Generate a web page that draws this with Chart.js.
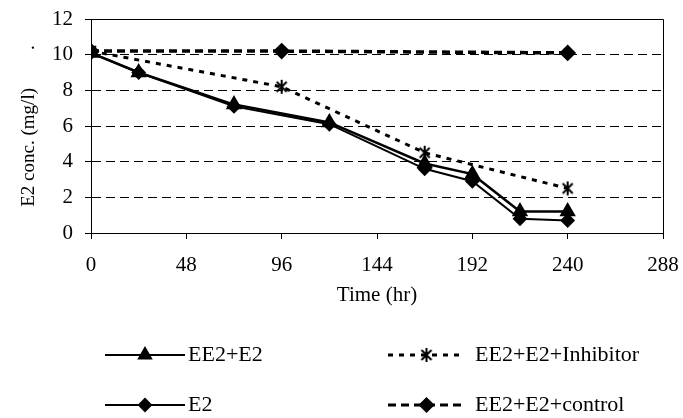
<!DOCTYPE html>
<html>
<head>
<meta charset="utf-8">
<script src="https://cdn.jsdelivr.net/npm/chart.js@4.4.0/dist/chart.umd.min.js"></script>
<style>
  html, body { margin: 0; padding: 0; background: #fff; }
  canvas { display: block; }
</style>
</head>
<body>
<canvas id="chart" width="683" height="418"></canvas>
<script>
// values
const times = [0, 24, 72, 120, 168, 192, 216, 240];
const ee2e2 = [10.1, 9.0, 7.2, 6.2, 3.9, 3.3, 1.2, 1.2];
const e2 = [10.1, 9.0, 7.1, 6.1, 3.6, 2.9, 0.8, 0.7];
const inhibitorTimes = [0, 96, 168, 240];
const inhibitor = [10.2, 8.2, 4.5, 2.5];
const controlTimes = [0, 96, 240];
const control = [10.2, 10.2, 10.1];
const xTicks = [0, 48, 96, 144, 192, 240, 288];
const yTicks = [0, 2, 4, 6, 8, 10, 12];

const FONT = "'Liberation Serif', 'Times New Roman', serif";

const pts = (xs, ys) => xs.map((x, i) => ({ x: x, y: ys[i] }));

// asterisk marker like the Excel one
const star = document.createElement('canvas');
star.width = 16;
star.height = 16;
(function () {
  const c = star.getContext('2d');
  c.strokeStyle = '#000';
  c.lineWidth = 2;
  c.beginPath();
  c.moveTo(3, 3); c.lineTo(13, 13);
  c.moveTo(13, 3); c.lineTo(3, 13);
  c.moveTo(8, 1); c.lineTo(8, 15);
  c.stroke();
})();

// legend slots: [row y, line start, line end, text x]
const legendSlots = [
  [355, 105, 185, 188],
  [355, 388, 465, 475],
  [405, 105, 185, 188],
  [405, 388, 465, 475],
];

const frame = {
  id: 'frame',
  beforeDraw(chart) {
    const ctx = chart.ctx;
    ctx.save();
    ctx.fillStyle = '#fff';
    ctx.fillRect(0, 0, chart.width, chart.height);
    ctx.restore();
  },
  afterDraw(chart) {
    const ctx = chart.ctx;
    const a = chart.chartArea;
    ctx.save();
    ctx.strokeStyle = '#000';
    ctx.lineWidth = 1;
    ctx.setLineDash([]);
    ctx.beginPath();
    ctx.moveTo(a.left, a.top + 0.5);
    ctx.lineTo(a.right + 0.5, a.top + 0.5);
    ctx.lineTo(a.right + 0.5, a.bottom);
    ctx.stroke();

    // legend, 2 x 2
    chart.data.datasets.forEach((ds, k) => {
      const [y, x0, x1, tx] = legendSlots[k];
      ctx.save();
      ctx.strokeStyle = '#000';
      ctx.lineWidth = ds.legendWidth;
      ctx.setLineDash(ds.borderDash || []);
      ctx.beginPath();
      ctx.moveTo(x0, y);
      ctx.lineTo(x1, y);
      ctx.stroke();
      ctx.setLineDash([]);
      Chart.helpers.drawPoint(ctx, {
        pointStyle: ds.pointStyle,
        radius: ds.pointRadius,
        borderWidth: 1,
        rotation: 0,
      }, (x0 + x1) / 2, y);
      ctx.fillStyle = '#000';
      ctx.font = '22px ' + FONT;
      ctx.textBaseline = 'middle';
      ctx.fillText(ds.label, tx, y);
      ctx.restore();
    });
    ctx.restore();
  },
};

new Chart(document.getElementById('chart'), {
  type: 'scatter',
  data: {
    datasets: [
      {
        label: 'EE2+E2',
        data: pts(times, ee2e2),
        showLine: true,
        borderColor: '#000',
        backgroundColor: '#000',
        borderWidth: 2.5,
        legendWidth: 2,
        pointStyle: 'triangle',
        pointRadius: 7,
      },
      {
        label: 'EE2+E2+Inhibitor',
        data: pts(inhibitorTimes, inhibitor),
        showLine: true,
        borderColor: '#000',
        backgroundColor: '#000',
        borderWidth: 3,
        legendWidth: 3,
        borderDash: [5, 6],
        pointStyle: star,
        pointRadius: 8,
      },
      {
        label: 'E2',
        data: pts(times, e2),
        showLine: true,
        borderColor: '#000',
        backgroundColor: '#000',
        borderWidth: 2,
        legendWidth: 2,
        pointStyle: 'rectRot',
        pointRadius: 6,
      },
      {
        label: 'EE2+E2+control',
        data: pts(controlTimes, control),
        showLine: true,
        borderColor: '#000',
        backgroundColor: '#000',
        borderWidth: 3.5,
        legendWidth: 3,
        borderDash: [8, 5],
        pointStyle: 'rectRot',
        pointRadius: 6,
      },
    ],
  },
  options: {
    responsive: false,
    animation: false,
    devicePixelRatio: 1,
    layout: { padding: { top: 19, right: 20, left: 0, bottom: 0 } },
    plugins: {
      legend: { display: false },
      tooltip: { enabled: false },
    },
    scales: {
      x: {
        type: 'linear',
        min: 0,
        max: 288,
        afterBuildTicks: (scale) => { scale.ticks = xTicks.map(v => ({ value: v })); },
        afterFit: (scale) => {
          scale.height = 185;
          scale.paddingLeft = 0;
          scale.paddingRight = 0;
        },
        grid: {
          drawOnChartArea: false,
          drawTicks: true,
          tickLength: 6,
          color: '#000',
        },
        border: { color: '#000', width: 1 },
        ticks: {
          color: '#000',
          padding: 14,
          maxRotation: 0,
          font: { family: FONT, size: 21 },
        },
        title: {
          display: true,
          text: 'Time (hr)',
          color: '#000',
          font: { family: FONT, size: 21 },
          padding: { top: 0, bottom: 110 },
        },
      },
      y: {
        min: 0,
        max: 12,
        afterBuildTicks: (scale) => { scale.ticks = yTicks.map(v => ({ value: v })); },
        afterFit: (scale) => {
          scale.width = 91;
          scale.paddingTop = 0;
          scale.paddingBottom = 0;
        },
        grid: {
          color: '#000',
          lineWidth: 1,
          tickLength: 6,
          tickBorderDash: [],
        },
        border: { color: '#000', width: 1, dash: [9, 5] },
        ticks: {
          color: '#000',
          padding: 12,
          font: { family: FONT, size: 21 },
        },
        title: {
          display: true,
          text: 'E2 conc. (mg/l)        .',
          color: '#000',
          font: { family: FONT, size: 19 },
          padding: { top: 18, bottom: 0 },
        },
      },
    },
  },
  plugins: [frame],
});
</script>
</body>
</html>
